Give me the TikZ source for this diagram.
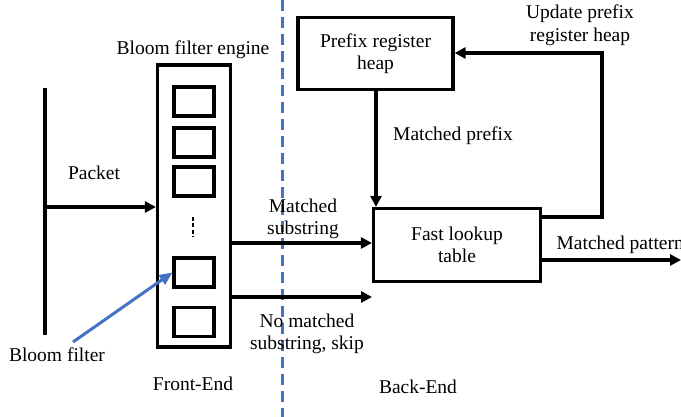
\documentclass[tikz,border=0pt]{standalone}
\usepackage{fontspec}
\setmainfont{Liberation Serif}
\usetikzlibrary{arrows.meta}
\definecolor{bluelink}{HTML}{4472C4}
\begin{document}
\begin{tikzpicture}[x=1pt,y=-1pt,
  line width=3.2pt,
  every node/.style={font=\fontsize{19.5}{22.5}\selectfont, align=center, inner sep=0pt},
  box/.style={draw, line width=3.2pt},
  cell/.style={draw, line width=3.2pt, minimum width=40pt, minimum height=29pt},
  arr/.style={-{Triangle[length=11pt,width=11pt]}}
]
\useasboundingbox (0,0) rectangle (681,417);

% packet input bus
\coordinate (busTop) at (45,88);
\coordinate (busBot) at (45,335);
\draw (busTop) -- (busBot);

% Bloom filter engine and its filter cells
\node[box, minimum width=73pt, minimum height=282pt] (engine) at (194,206) {};
\node[cell] (c1) at (194,101.5) {};
\node[cell] (c2) at (194,142.5) {};
\node[cell] (c3) at (194,181.5) {};
\node[cell] (c4) at (194,272.5) {};
\node[cell] (c5) at (194,322) {};
\coordinate (dotsTop) at (193,217);
\coordinate (dotsBot) at (193,237);
\draw[line width=1.4pt, dash pattern=on 4pt off 2.5pt] (dotsTop) -- (dotsBot);
\node (engineLbl) at (193,50) {Bloom filter engine};

% packet arrow
\coordinate (pktStart) at (45,207);
\draw[arr] (pktStart) -- (engine.west |- pktStart);
\node (pktLbl) at (94,173) {Packet};

% front-end / back-end divider
\coordinate (divTop) at (282,0);
\coordinate (divBot) at (282,417);
\draw[bluelink, line width=3pt, dash pattern=on 11pt off 6pt] (divTop) -- (divBot);

% back-end blocks
\node[box, minimum width=155pt, minimum height=72pt] (heap) at (375.5,53.5) {Prefix register\\heap};
\node[box, minimum width=167pt, minimum height=73pt] (fast) at (457,245) {Fast lookup\\table};

% engine outputs
\coordinate (mStart) at (engine.east |- 0,243);
\draw[arr] (mStart) -- (fast.west |- mStart);
\node (mLbl) at (303,219) {Matched\\substring};
\coordinate (nStart) at (engine.east |- 0,297);
\coordinate (nEnd) at (372,297);
\draw[arr] (nStart) -- (nEnd);
\node (nLbl) at (307,334) {No matched\\substring, skip};

% prefix path
\coordinate (pStart) at (376,0);
\draw[arr] (heap.south -| pStart) -- (fast.north -| pStart);
\node (pLbl) at (453,136) {Matched prefix};

% feedback loop to the heap
\coordinate (fbA) at (fast.east |- 0,217);
\coordinate (fbB) at (602,217);
\coordinate (fbC) at (602,53);
\draw[arr] (fbA) -- (fbB) -- (fbC) -- (heap.east |- fbC);
\node (fbLbl) at (580,25) {Update prefix\\register heap};

% matched pattern output
\coordinate (oStart) at (fast.east |- 0,260);
\coordinate (oEnd) at (681,260);
\draw[arr] (oStart) -- (oEnd);
\node[anchor=west] (oLbl) at (555,245) {Matched pattern};

% Bloom filter pointer
\coordinate (bfStart) at (73,342);
\draw[bluelink, line width=3pt, -{Triangle[length=13pt,width=11pt]}] (bfStart) -- (c4.west);
\node (bfLbl) at (57,355) {Bloom filter};

% section captions
\node (feLbl) at (193,384) {Front-End};
\node (beLbl) at (418,387) {Back-End};
\end{tikzpicture}
\end{document}
